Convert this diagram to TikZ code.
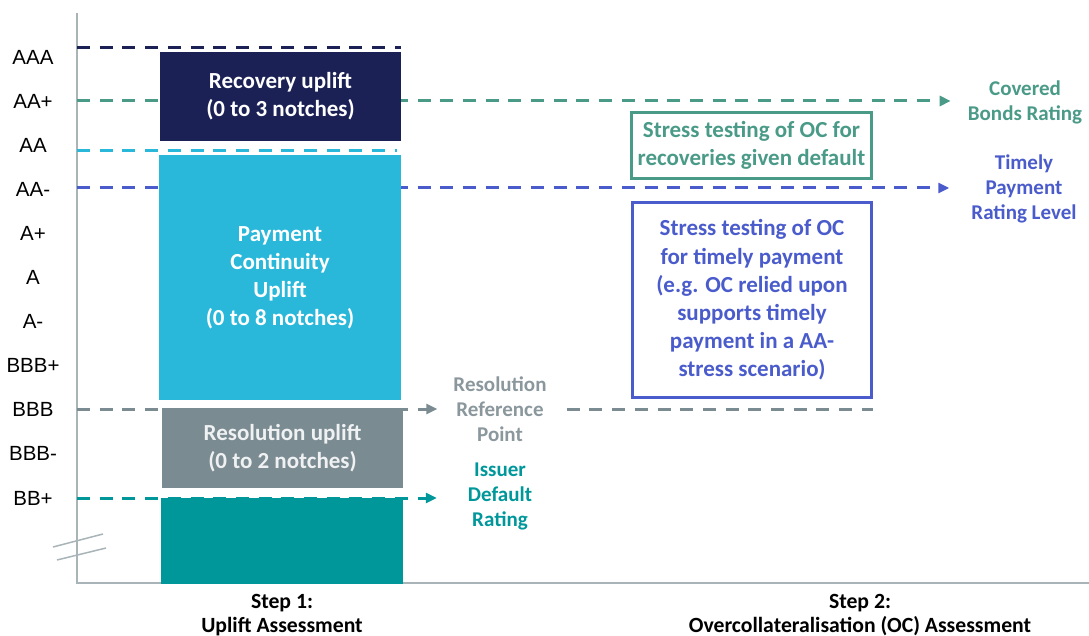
\documentclass[tikz,border=0pt]{standalone}
\usepackage{fontspec}
\setmainfont{Carlito}
\newfontfamily\ratingfont{Liberation Sans}
\usetikzlibrary{arrows.meta}
\definecolor{navyup}{HTML}{1B2155}
\definecolor{cyanup}{HTML}{29B8DA}
\definecolor{greyup}{HTML}{7A8B92}
\definecolor{greytext}{HTML}{8A979C}
\definecolor{tealup}{HTML}{00979B}
\definecolor{greenoc}{HTML}{4A9A88}
\definecolor{blueoc}{HTML}{4A5BCB}
\definecolor{axisgrey}{HTML}{A9B4B8}
\tikzset{
	ratingnode/.style={font=\ratingfont\fontsize{20.5}{22}\selectfont, inner sep=0pt},
	upliftbox/.style={rectangle, inner sep=0pt, text=white, align=center, font=\bfseries\fontsize{23}{28}\selectfont},
	ocbox/.style={rectangle, draw, line width=3pt, inner sep=0pt, align=center, font=\bfseries\fontsize{23}{28.2}\selectfont},
	sidelabel/.style={inner sep=0pt, align=center, font=\bfseries\fontsize{21}{25}\selectfont},
	steplabel/.style={inner sep=0pt, align=center, font=\bfseries\fontsize{21.7}{24}\selectfont},
	levelline/.style={line width=3pt, dash pattern=on 13pt off 9.7pt},
	levelarrow/.style={levelline, -{Triangle[length=11pt,width=10pt]}}
}
\begin{document}
\begin{tikzpicture}[x=1pt,y=-1pt]
	\useasboundingbox (0,0) rectangle (1089,636);
	\coordinate (axis-top) at (77,13);
	\coordinate (axis-origin) at (77,583);
	\coordinate (axis-end) at (1089,583);
	\draw[axisgrey, line width=2pt] (axis-top) -- (axis-origin) -- (axis-end);
	\draw[axisgrey, line width=1.5pt] (53,547) -- (103,534);
	\draw[axisgrey, line width=1.5pt] (57,560) -- (106,548);

	\foreach \r [count=\i from 0] in {AAA,AA+,AA,AA-,A+,A,A-,BBB+,BBB,BBB-,BB+}
		\node[ratingnode] (rating\i) at (33,57+\i*44.1) {\r};

	\coordinate (aaa-l) at (77,48);
	\coordinate (aaa-r) at (401,48);
	\coordinate (aap-l) at (77,101);
	\coordinate (aa-l) at (77,151);
	\coordinate (aa-r) at (397,151);
	\coordinate (aam-l) at (77,188);
	\coordinate (bbb-l) at (77,409);
	\coordinate (bbb-r) at (873,409);
	\coordinate (bbp-l) at (77,498);

	\node[sidelabel, text=greenoc] (covered) at (1025,102.5) {Covered\\Bonds Rating};
	\node[sidelabel, text=blueoc] (timely) at (1024,188.5) {Timely\\Payment\\Rating Level};
	\node[sidelabel, text=greytext] (resref) at (500,409) {Resolution\\Reference\\Point};
	\node[sidelabel, text=tealup] (issuer) at (500,496.5) {Issuer\\Default\\Rating};

	\draw[levelarrow, greenoc, shorten >=17pt] (aap-l) -- (aap-l -| covered.west);
	\draw[levelarrow, blueoc, shorten >=22pt] (aam-l) -- (aam-l -| timely.west);

	\node[upliftbox, fill=navyup, minimum width=241pt, minimum height=89pt] (recovery) at (280.5,96.5) {Recovery uplift\\(0 to 3 notches)};
	\node[upliftbox, fill=cyanup, minimum width=242pt, minimum height=245pt] (payment) at (280,277.5) {Payment\\Continuity\\Uplift\\(0 to 8 notches)};
	\node[upliftbox, fill=greyup, text=white!88!greyup, minimum width=241pt, minimum height=80pt] (resolution) at (282.5,448) {Resolution uplift\\(0 to 2 notches)};
	\node[upliftbox, fill=tealup, minimum width=242pt, minimum height=86pt] (issuerbox) at (282,541) {};

	\draw[levelline, navyup] (aaa-l) -- (aaa-r);
	\draw[levelline, cyanup] (aa-l) -- (aa-r);
	\draw[levelarrow, greyup, shorten >=16pt] (bbb-l) -- (bbb-l -| resref.west);
	\draw[levelline, greyup] ([xshift=20pt]resref.east) -- (bbb-r);
	\draw[levelarrow, tealup, shorten >=31pt] (bbp-l) -- (bbp-l -| issuer.west);

	\node[ocbox, draw=greenoc, text=greenoc, minimum width=240pt, minimum height=66pt] (recoverytest) at (751.5,145.5) {Stress testing of OC for\\recoveries given default};
	\node[ocbox, draw=blueoc, text=blueoc, minimum width=239pt, minimum height=195pt] (timelytest) at (752,300) {Stress testing of OC\\for timely payment\\(e.g. OC relied upon\\supports timely\\payment in a AA-\\stress scenario)};

	\node[steplabel] (step1) at (282,615) {Step 1:\\Uplift Assessment};
	\node[steplabel] (step2) at (860,615) {Step 2:\\Overcollateralisation (OC) Assessment};
\end{tikzpicture}
\end{document}
